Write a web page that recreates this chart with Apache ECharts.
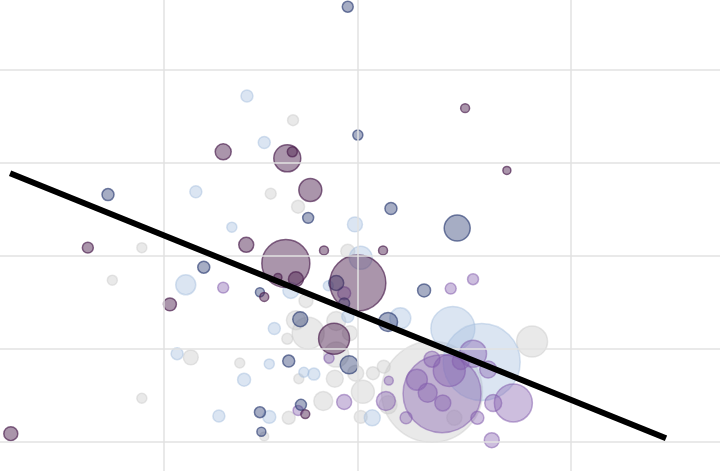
<!DOCTYPE html>
<html>
<head>
<meta charset="utf-8">
<script src="https://cdn.jsdelivr.net/npm/echarts@6/dist/echarts.min.js"></script>
<style>html,body{margin:0;padding:0;background:#fff}#c{width:720px;height:471px}</style>
</head>
<body>
<div id="c"></div>
<script>
// [x, y, population]
const plum = [
  [31.0,31.2,64],[39.9,30.5,182],[40.6,31.2,25],[43.1,27.1,132],[64.6,35.9,20],[70.4,29.2,16],
  [12.2,20.9,30],[34.2,21.2,56],[39.7,19.2,576],[45.0,20.6,20],[53.2,20.6,20],[49.7,17.1,784],
  [41.1,17.5,56],[38.6,17.7,16],[36.7,15.6,20],[23.6,14.8,42],[46.4,11.1,240],[42.4,3.0,20],[1.5,0.9,49]
];
const navy = [
  [48.3,46.8,30],[49.7,33.0,25],[15.0,26.6,36],[42.8,24.1,30],[54.3,25.1,36],[63.5,23.0,169],
  [28.3,18.8,36],[36.1,16.1,20],[46.7,17.1,56],[47.8,14.9,30],[58.9,16.3,42],[53.9,12.9,90],
  [41.7,13.2,56],[40.1,8.7,36],[48.5,8.3,81],[41.8,4.0,30],[36.1,3.2,30],[36.3,1.1,20]
];
const lightBlue = [
  [34.3,37.2,36],[36.7,32.2,36],[27.2,26.9,36],[49.3,23.4,56],[32.2,23.1,25],[50.1,19.8,132],
  [25.8,16.9,100],[45.6,16.8,25],[40.4,16.3,64],[48.3,13.5,36],[55.6,13.3,110],[38.1,12.2,36],
  [24.6,9.5,36],[37.4,8.4,25],[33.9,6.7,42],[42.2,7.5,25],[43.6,7.3,36],[30.4,2.8,36],
  [37.4,2.7,42],[51.7,2.6,64],[62.9,12.2,484],[66.9,8.6,1482]
];
const gray = [
  [40.7,34.6,30],[37.6,26.7,30],[41.4,25.3,42],[19.7,20.9,25],[48.3,20.5,49],[15.6,17.4,25],
  [42.5,15.2,49],[41.1,13.1,90],[42.8,11.7,256],[46.7,13.0,90],[48.6,11.7,56],[39.9,11.1,30],
  [46.7,9.4,156],[26.5,9.1,56],[33.3,8.5,25],[41.5,6.8,25],[46.5,6.8,72],[49.4,7.4,64],
  [51.8,7.4,42],[53.3,8.1,42],[50.4,5.4,132],[44.9,4.4,90],[53.9,4.0,81],[19.7,4.7,25],
  [40.1,2.6,42],[50.1,2.7,42],[36.7,0.6,20],[63.1,2.6,56],[73.9,10.8,240],[60.0,5.4,2550]
];
const lavender = [
  [31.0,16.6,30],[47.8,16.0,42],[45.7,9.0,25],[47.8,4.3,56],[41.4,3.4,25],[54.0,6.6,20],
  [53.6,4.4,90],[56.4,2.6,36],[62.6,16.5,30],[65.7,17.5,30],[65.7,9.5,182],[64.0,8.7,72],
  [62.4,7.7,256],[60.0,8.9,64],[67.8,7.8,72],[61.4,5.2,1521],[57.9,6.7,110],[59.4,5.3,90],
  [61.5,4.2,64],[66.3,2.6,42],[68.5,4.2,72],[71.3,4.2,361],[68.3,0.2,56]
];
const trend = [[1.4,28.9],[92.5,0.4]];
const xGridValues = [22.78, 49.72, 79.31];
const yGridValues = [0, 10, 20, 30, 40];

const chart = echarts.init(document.getElementById('c'), null, {renderer:'canvas'});
function bubble(name, data, rgb, alpha, borderAlpha){
  const sorted = data.slice().sort((a,b)=>b[2]-a[2]);
  return {
    name, type:'scatter', data: sorted, z: 2,
    symbolSize: d => 2*Math.sqrt(d[2]),
    itemStyle:{color:`rgba(${rgb},${alpha})`, borderColor:`rgba(${rgb},${borderAlpha})`, borderWidth:1.5},
    emphasis:{disabled:true}, silent:true
  };
}
chart.setOption({
  animation:false,
  grid:{left:0,right:0,top:0,bottom:0},
  xAxis:{type:'value',min:0,max:100,show:false,splitLine:{show:false}},
  yAxis:{type:'value',min:-3.118,max:47.527,show:false,splitLine:{show:false}},
  series:[
    {type:'scatter',data:[],z:0,silent:true,
      markLine:{silent:true,symbol:'none',label:{show:false},animation:false,
        lineStyle:{type:'solid',color:'#e2e2e2',width:1.5},
        emphasis:{disabled:true},
        data:[...xGridValues.map(v=>({xAxis:v})),...yGridValues.map(v=>({yAxis:v}))]}},
    bubble('gray', gray, '200,200,200', 0.5, 0.55),
    bubble('lightBlue', lightBlue, '165,190,222', 0.5, 0.6),
    bubble('lavender', lavender, '130,92,172', 0.5, 0.65),
    bubble('navy', navy, '52,68,120', 0.55, 0.85),
    bubble('plum', plum, '78,34,80', 0.6, 0.85),
    {type:'line',data:trend,symbol:'none',z:10,silent:true,
      lineStyle:{color:'#000',width:6}}
  ]
});
</script>
</body>
</html>
